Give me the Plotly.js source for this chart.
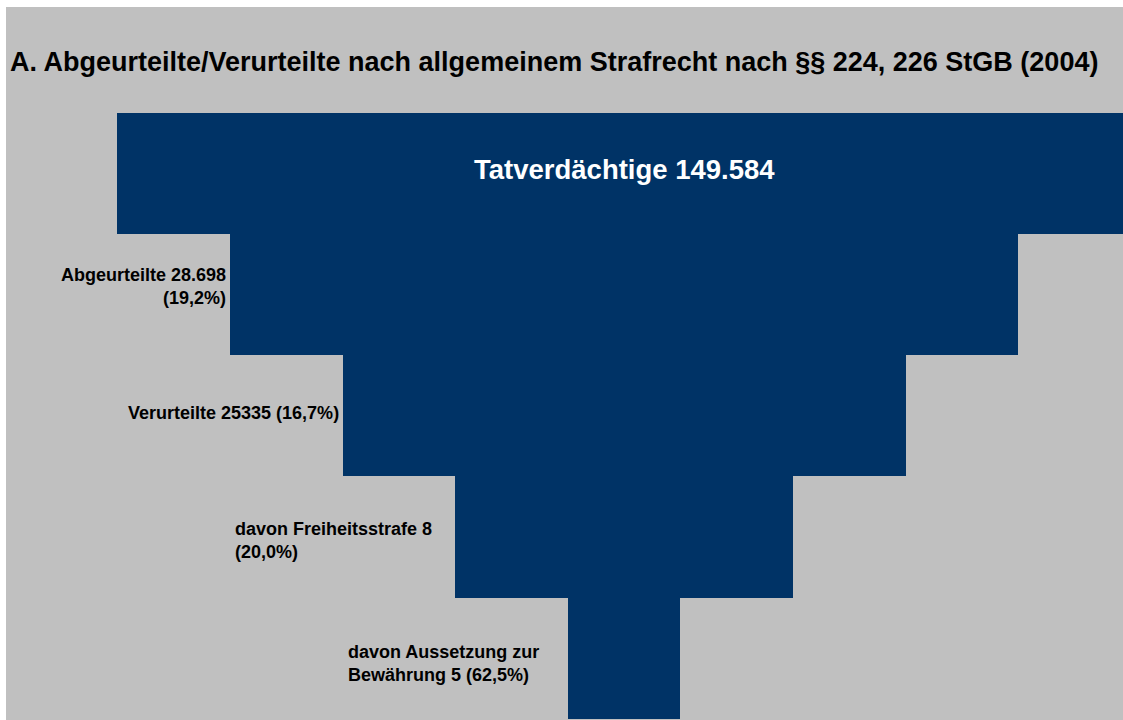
<!DOCTYPE html>
<html>
<head>
<meta charset="utf-8">
<script src="https://cdn.plot.ly/plotly-3.0.1.min.js"></script>
<style>html,body{margin:0;padding:0;background:#fff;}#chart{width:1123px;height:720px;}</style>
</head>
<body>
<div id="chart"></div>
<script>
// Stages of the funnel (top to bottom)
const stages = ["Tatverdächtige", "Abgeurteilte", "Verurteilte", "davon Freiheitsstrafe", "davon Aussetzung zur Bewährung"];
// Step levels of the funnel bars (relative widths as drawn)
const levels = [9, 7, 5, 3, 1];
// Label texts
const labels = [
  "Tatverdächtige 149.584",
  "Abgeurteilte 28.698<br>(19,2%)",
  "Verurteilte 25335 (16,7%)",
  "davon Freiheitsstrafe 8<br>(20,0%)",
  "davon Aussetzung zur<br>Bewährung 5 (62,5%)"
];
const titleText = "A. Abgeurteilte/Verurteilte nach allgemeinem Strafrecht nach §§ 224, 226 StGB (2004)";

const FONT = "Liberation Sans, Arial, sans-serif";
const barColor = "#003366";
const labelShift = [4, 8, 3, -3, -5];

const trace = {
  type: "bar",
  orientation: "h",
  y: stages,
  x: levels,
  base: levels.map(v => -v / 2),
  marker: {color: barColor, line: {width: 0}},
  hoverinfo: "skip",
  showlegend: false
};

const annotations = [];
annotations.push({
  x: 0, y: stages[0], xref: "x", yref: "y",
  text: labels[0], showarrow: false,
  xanchor: "center", yanchor: "middle", yshift: labelShift[0],
  font: {family: FONT, size: 27.5, color: "#ffffff", weight: "bold"}
});
for (const i of [1, 2]) {
  annotations.push({
    x: -levels[i] / 2, y: stages[i], xref: "x", yref: "y",
    text: labels[i], showarrow: false,
    xanchor: "right", yanchor: "middle", align: "right", xshift: -2, yshift: labelShift[i],
    font: {family: FONT, size: 18, color: "#000000", weight: "bold"}
  });
}
for (const i of [3, 4]) {
  annotations.push({
    x: -levels[i - 2] / 2, y: stages[i], xref: "x", yref: "y",
    text: labels[i], showarrow: false,
    xanchor: "left", yanchor: "middle", align: "left", xshift: 3, yshift: labelShift[i],
    font: {family: FONT, size: 18, color: "#000000", weight: "bold"}
  });
}

const layout = {
  width: 1123, height: 720,
  margin: {l: 6, r: 0, t: 7, b: 0, pad: 0},
  paper_bgcolor: "#ffffff",
  plot_bgcolor: "#c0c0c0",
  bargap: 0,
  title: {
    text: titleText,
    x: 10 / 1123, xref: "container", xanchor: "left",
    y: 1 - 62 / 720, yref: "container", yanchor: "middle",
    font: {family: FONT, size: 27, color: "#000000", weight: "bold"}
  },
  xaxis: {range: [-5.49, 4.43], visible: false, fixedrange: true},
  yaxis: {type: "category", range: [4.51, -1.375], visible: false, fixedrange: true},
  annotations: annotations
};

Plotly.newPlot("chart", [trace], layout, {staticPlot: true, displayModeBar: false});
</script>
</body>
</html>
